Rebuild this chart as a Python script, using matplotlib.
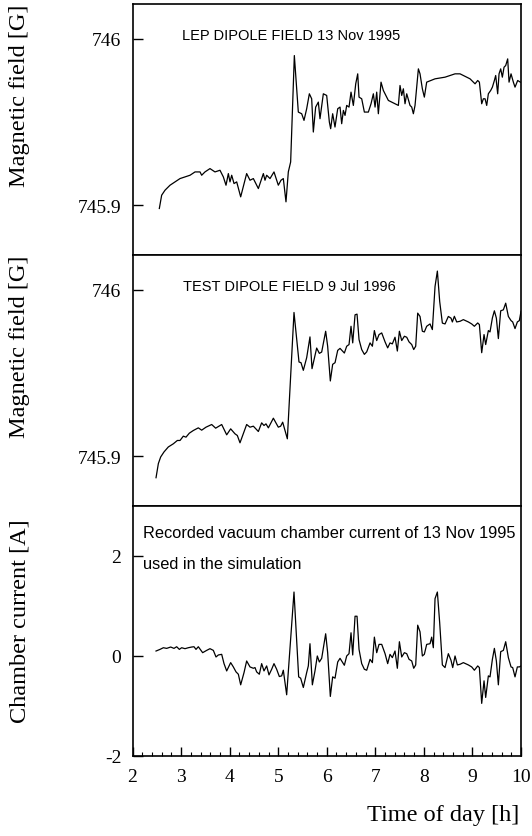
import matplotlib
matplotlib.use("Agg")
import matplotlib.pyplot as plt
from matplotlib.ticker import MultipleLocator

plt.rcParams['axes.unicode_minus'] = False

# LEP dipole field, 13 Nov 1995
lep_t = [2.552, 2.600, 2.669, 2.772, 2.875, 2.978, 3.081, 3.184, 3.287, 3.390,
         3.424, 3.492, 3.595, 3.698, 3.801, 3.870, 3.925, 3.973, 4.007, 4.042,
         4.090, 4.145, 4.227, 4.350, 4.419, 4.488, 4.591, 4.694, 4.728, 4.762,
         4.831, 4.913, 5.002, 5.057, 5.105, 5.160, 5.208, 5.256, 5.332, 5.414,
         5.483, 5.531, 5.586, 5.641, 5.689, 5.723, 5.771, 5.826, 5.860, 5.929,
         5.998, 6.053, 6.080, 6.121, 6.169,
         6.225, 6.273, 6.307, 6.342, 6.376, 6.410, 6.458, 6.499, 6.547, 6.596,
         6.637, 6.664, 6.719, 6.774, 6.856, 6.911, 6.959, 6.994, 7.028, 7.062,
         7.117, 7.165, 7.268, 7.337, 7.405, 7.474, 7.508, 7.543, 7.577, 7.611,
         7.646, 7.714, 7.749, 7.783, 7.817, 7.886, 7.920, 7.968, 8.009, 8.057,
         8.229, 8.435, 8.641, 8.744, 8.812, 8.881, 8.950, 9.018, 9.053, 9.108,
         9.142, 9.190, 9.224, 9.259, 9.293, 9.327, 9.375, 9.410, 9.451, 9.478,
         9.519, 9.547, 9.581, 9.615, 9.650, 9.684, 9.725, 9.753, 9.794, 9.842,
         9.876, 9.931, 9.986]
lep_b = [745.898, 745.906, 745.909, 745.912, 745.914, 745.916, 745.917, 745.918, 745.920, 745.920,
         745.918, 745.920, 745.922, 745.920, 745.921, 745.917, 745.912, 745.919, 745.914, 745.918,
         745.913, 745.914, 745.905, 745.919, 745.915, 745.916, 745.910, 745.919, 745.915, 745.918,
         745.916, 745.920, 745.912, 745.915, 745.916, 745.902, 745.920, 745.926, 745.990, 745.956,
         745.955, 745.951, 745.958, 745.967, 745.964, 745.944, 745.959, 745.962, 745.952, 745.967,
         745.966, 745.950, 745.946, 745.955, 745.947,
         745.958, 745.959, 745.949, 745.957, 745.954, 745.960, 745.959, 745.968, 745.960, 745.973,
         745.979, 745.965, 745.964, 745.956, 745.956, 745.961, 745.967, 745.959, 745.968, 745.955,
         745.974, 745.969, 745.963, 745.962, 745.961, 745.960, 745.972, 745.966, 745.970, 745.961,
         745.967, 745.960, 745.959, 745.955, 745.960, 745.982, 745.979, 745.970, 745.965, 745.974,
         745.976, 745.977, 745.979, 745.979, 745.978, 745.977, 745.976, 745.974, 745.973, 745.975,
         745.974, 745.961, 745.964, 745.964, 745.960, 745.967, 745.969, 745.971, 745.975, 745.978,
         745.967, 745.979, 745.982, 745.977, 745.983, 745.984, 745.988, 745.974, 745.979, 745.974,
         745.971, 745.975, 745.974]

# test dipole field, 9 Jul 1996
test_t = [2.484, 2.532, 2.580, 2.648, 2.737, 2.840, 2.923, 2.978, 3.046, 3.101,
          3.170, 3.252, 3.355, 3.424, 3.513, 3.630, 3.712, 3.836, 3.939, 4.021,
          4.110, 4.158, 4.213, 4.350, 4.419, 4.488, 4.591, 4.659, 4.707, 4.748,
          4.797, 4.900, 5.002, 5.050, 5.092, 5.188, 5.325, 5.428, 5.469, 5.517,
          5.586, 5.654, 5.696, 5.792, 5.847, 5.895, 5.977, 6.018, 6.073, 6.121,
          6.170, 6.225, 6.273, 6.362, 6.410, 6.458, 6.499, 6.534, 6.582, 6.623,
          6.664, 6.719, 6.774, 6.822, 6.891, 6.939, 6.980, 7.028, 7.076, 7.131,
          7.200, 7.254, 7.302, 7.350, 7.405, 7.453, 7.495, 7.543, 7.598, 7.646,
          7.694, 7.749, 7.790, 7.831, 7.872, 7.920, 7.968, 8.009, 8.057, 8.126,
          8.174, 8.229, 8.277, 8.325, 8.380, 8.435, 8.503, 8.558, 8.586, 8.627,
          8.675, 8.744, 8.812, 8.915, 8.984, 9.039, 9.108, 9.142, 9.190, 9.238,
          9.272, 9.327, 9.361, 9.410, 9.451, 9.492, 9.533, 9.581, 9.636, 9.684,
          9.739, 9.794, 9.828, 9.876, 9.924, 9.965, 9.999]
test_b = [745.8870, 745.8955, 745.8995, 745.9025, 745.9055, 745.9074, 745.9094, 745.9094, 745.9120, 745.9114,
          745.9138, 745.9154, 745.9170, 745.9156, 745.9174, 745.9190, 745.9168, 745.9190, 745.9128, 745.9164,
          745.9134, 745.9124, 745.9080, 745.9190, 745.9174, 745.9180, 745.9148, 745.9200, 745.9184, 745.9194,
          745.9170, 745.9228, 745.9174, 745.9180, 745.9204, 745.9104, 745.9864, 745.9566, 745.9562, 745.9516,
          745.9592, 745.9717, 745.9526, 745.9650, 745.9618, 745.9626, 745.9751, 745.9661, 745.9452, 745.9552,
          745.9562, 745.9636, 745.9648, 745.9620, 745.9661, 745.9671, 745.9781, 745.9681, 745.9850, 745.9854,
          745.9701, 745.9641, 745.9612, 745.9627, 745.9681, 745.9661, 745.9755, 745.9695, 745.9731, 745.9741,
          745.9687, 745.9651, 745.9681, 745.9675, 745.9715, 745.9632, 745.9751, 745.9695, 745.9721, 745.9715,
          745.9687, 745.9671, 745.9641, 745.9661, 745.9860, 745.9840, 745.9751, 745.9747, 745.9781, 745.9795,
          745.9761, 746.0020, 746.0113, 745.9930, 745.9800, 745.9795, 745.9840, 745.9830, 745.9807, 745.9841,
          745.9807, 745.9811, 745.9821, 745.9807, 745.9795, 745.9781, 745.9801, 745.9791, 745.9622, 745.9731,
          745.9671, 745.9755, 745.9747, 745.9831, 745.9874, 745.9830, 745.9707, 745.9874, 745.9880, 745.9920,
          745.9840, 745.9815, 745.9807, 745.9767, 745.9807, 745.9815, 745.9870]

# vacuum chamber current, 13 Nov 1995
cur_t = [2.484, 2.566, 2.635, 2.703, 2.786, 2.854, 2.909, 2.964, 3.012, 3.081,
         3.149, 3.218, 3.266, 3.307, 3.355, 3.444, 3.527, 3.595, 3.664, 3.719,
         3.767, 3.836, 3.884, 3.939, 4.021, 4.076, 4.131, 4.179, 4.227, 4.296,
         4.350, 4.419, 4.488, 4.522, 4.556, 4.611, 4.659, 4.707, 4.762, 4.810,
         4.865, 4.913, 4.968, 5.023, 5.071, 5.105, 5.174, 5.325, 5.421, 5.462,
         5.517, 5.586, 5.620, 5.654, 5.703, 5.757, 5.805, 5.847, 5.895, 5.977,
         6.018, 6.073, 6.121,
         6.170, 6.225, 6.273, 6.362, 6.410, 6.458, 6.499, 6.534, 6.582, 6.623,
         6.664, 6.719, 6.774, 6.822, 6.891, 6.939, 6.980, 7.028, 7.076, 7.131,
         7.200, 7.254, 7.302, 7.350, 7.405, 7.453, 7.495, 7.543, 7.598, 7.646,
         7.694, 7.749, 7.790, 7.831, 7.872, 7.920, 7.968, 8.009, 8.057, 8.126,
         8.160, 8.194, 8.229, 8.277, 8.325, 8.380, 8.435, 8.503, 8.558, 8.593,
         8.641, 8.689, 8.744, 8.812, 8.915, 8.984, 9.039, 9.108, 9.142, 9.190,
         9.238, 9.272, 9.327, 9.361, 9.410, 9.451, 9.492, 9.533, 9.581, 9.636,
         9.684, 9.739, 9.794, 9.828, 9.876, 9.924, 9.965, 10.0]
cur_a = [0.099, 0.132, 0.165, 0.152, 0.179, 0.152, 0.185, 0.132, 0.165, 0.146,
         0.165, 0.179, 0.185, 0.132, 0.185, 0.066, 0.112, 0.146, 0.112, -0.020,
         0.020, 0.033, -0.153, -0.299, -0.133, -0.219, -0.318, -0.365, -0.577, -0.332,
         -0.100, -0.219, -0.246, -0.232, -0.318, -0.365, -0.153, -0.299, -0.199, -0.378,
         -0.266, -0.153, -0.266, -0.411, -0.398, -0.285, -0.776, 1.279, -0.418, -0.444,
         -0.630, -0.332, -0.199, 0.245, -0.577, -0.299, 0.000, -0.120, -0.047, 0.444,
         0.066, -0.809, -0.418,
         -0.444, -0.120, -0.047, -0.186, 0.000, 0.046, 0.464, 0.020, 0.795, 0.795,
         0.132, -0.153, -0.266, -0.285, -0.067, -0.133, 0.377, 0.066, 0.232, 0.232,
         0.046, -0.153, 0.033, -0.033, 0.099, -0.246, 0.285, -0.020, 0.066, 0.046,
         -0.067, -0.100, -0.246, -0.179, 0.616, 0.483, 0.000, 0.033, 0.232, 0.245,
         0.377, 0.165, 1.146, 1.279, 0.662, -0.179, -0.232, 0.046, -0.087, -0.232,
         0.000, -0.179, -0.166, -0.133, -0.179, -0.219, -0.285, -0.199, -0.232, -0.948,
         -0.497, -0.829, -0.398, -0.418, -0.067, 0.152, -0.100, -0.577, 0.086, 0.112,
         0.285, -0.033, -0.219, -0.232, -0.418, -0.219, -0.219, -0.199]

serif = 'Liberation Serif'
sans = 'Liberation Sans'

fig = plt.figure(figsize=(5.32, 8.37), dpi=100)
left, width = 0.2491, 0.7303
ax1 = fig.add_axes([left, 0.6941, width, 0.2999])
ax2 = fig.add_axes([left, 0.3943, width, 0.2999])
ax3 = fig.add_axes([left, 0.0956, width, 0.2987])

for ax in (ax1, ax2, ax3):
    ax.set_xlim(2, 10)
    for s in ax.spines.values():
        s.set_linewidth(1.2)
    ax.tick_params(direction='in', length=7, width=1, labelsize=14, pad=8)

ax1.plot(lep_t, lep_b, color='black', lw=0.9)
ax2.plot(test_t, test_b, color='black', lw=0.9)
ax3.plot(cur_t, cur_a, color='black', lw=0.9)

for ax in (ax1, ax2):
    ax.set_ylim(745.870, 746.021)
    ax.set_yticks([745.9, 746.0])
    ax.set_yticklabels(['745.9', '746'], family=serif, fontsize=14)
    ax.set_xticks([])

ax3.set_ylim(-2, 3)
ax3.set_yticks([-2, 0, 2])
ax3.set_yticklabels(['-2', '0', '2'], family=serif, fontsize=14)
ax3.set_xticks(range(2, 11))
ax3.set_xticklabels([str(v) for v in range(2, 11)], family=serif, fontsize=14)
ax3.xaxis.set_minor_locator(MultipleLocator(0.2))
ax3.tick_params(axis='x', which='minor', direction='in', length=3, width=0.8)
ax3.tick_params(axis='x', which='major', length=6.5, pad=9)

ax1.text(0.127, 0.876, 'LEP DIPOLE FIELD 13 Nov 1995', transform=ax1.transAxes,
         family=sans, fontsize=10.5, va='center', ha='left')
ax2.text(0.131, 0.878, 'TEST DIPOLE FIELD 9 Jul 1996', transform=ax2.transAxes,
         family=sans, fontsize=10.5, va='center', ha='left')
ax3.text(0.028, 0.895, 'Recorded vacuum chamber current of 13 Nov 1995',
         transform=ax3.transAxes, family=sans, fontsize=11.8, va='center', ha='left')
ax3.text(0.028, 0.768, 'used in the simulation', transform=ax3.transAxes,
         family=sans, fontsize=11.8, va='center', ha='left')

fig.text(20 / 532, 0.994, 'Magnetic field [G]', rotation=90, ha='center', va='top',
         family=serif, fontsize=17.5)
fig.text(20 / 532, 0.695, 'Magnetic field [G]', rotation=90, ha='center', va='top',
         family=serif, fontsize=17.5)
fig.text(20 / 532, 0.38, 'Chamber current [A]', rotation=90, ha='center', va='top',
         family=serif, fontsize=17.5)
fig.text(519 / 532, 1 - 816 / 837, 'Time of day [h]', ha='right', va='center',
         family=serif, fontsize=17.5)

fig.savefig('out.png', dpi=100)
